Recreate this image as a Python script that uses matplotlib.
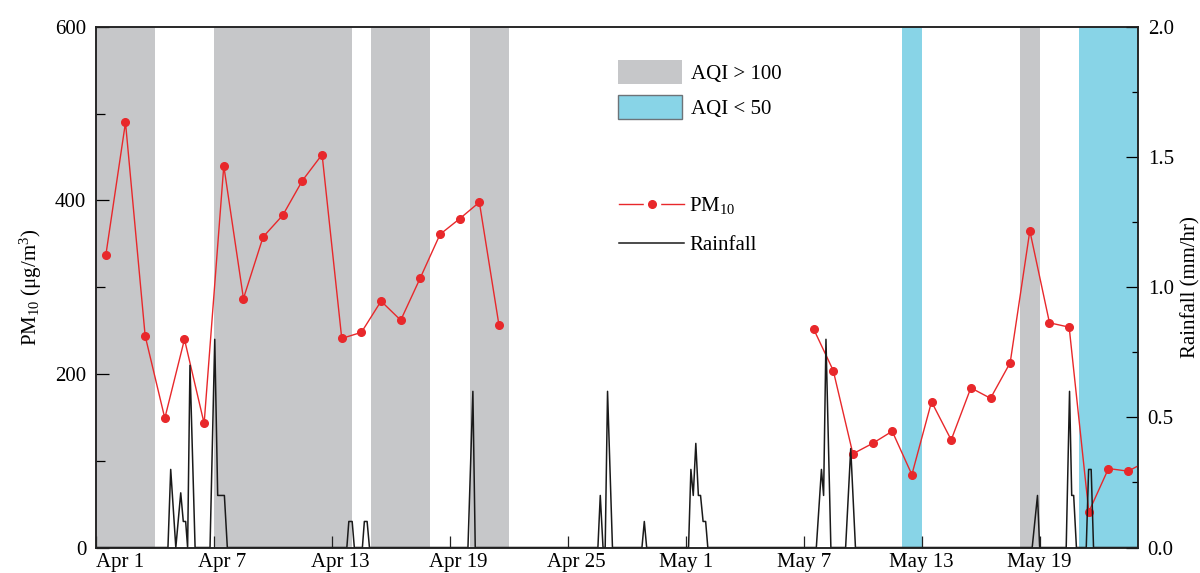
import matplotlib
matplotlib.use("Agg")
import matplotlib.pyplot as plt
import matplotlib.transforms as mtransforms
from matplotlib.lines import Line2D
from matplotlib.patches import Patch
from matplotlib.legend_handler import HandlerTuple
from matplotlib.ticker import MultipleLocator
import numpy as np

plt.rcParams["font.family"] = ["Liberation Serif", "DejaVu Serif"]
plt.rcParams["mathtext.fontset"] = "custom"
plt.rcParams["mathtext.rm"] = "Liberation Serif"
plt.rcParams["mathtext.it"] = "Liberation Serif:italic"
plt.rcParams["font.size"] = 15

# ---------------------------------------------------------------------------
# Data  (x = days since Apr 1 00:00)
# ---------------------------------------------------------------------------
tick_days = [0, 6, 12, 18, 24, 30, 36, 42, 48]
tick_labels = ["Apr 1", "Apr 7", "Apr 13", "Apr 19", "Apr 25",
               "May 1", "May 7", "May 13", "May 19"]

nan = np.nan
# daily mean PM10 (ug/m3), Apr 1 .. May 24; nan = no measurement
pm10 = [337, 490, 244, 149, 240, 143, 440, 287, 358, 383, 423, 453,
        241, 248, 284, 262, 311, 361, 379, 398, 256,
        nan, nan, nan, nan, nan, nan, nan, nan, nan, nan, nan, nan, nan, nan, nan,
        252, 204, 108, 120, 134, 84, 168, 124, 184, 172, 213, 365,
        259, 254, 41, 91, 88, 100]

# rainfall (mm/hr) vertices
rain_t = [0.00,
          3.66, 3.80, 4.06, 4.31, 4.44, 4.56, 4.66, 4.78, 5.04,
          5.80, 6.04, 6.19, 6.53, 6.68,
          12.76, 12.86, 13.03, 13.14,
          13.55, 13.65, 13.79, 13.91,
          18.92, 19.17, 19.29,
          25.53, 25.65, 25.79, 25.90, 26.02, 26.27,
          27.77, 27.89, 28.01,
          30.14, 30.26, 30.38, 30.51, 30.64, 30.75, 30.88, 31.01, 31.12,
          36.64, 36.90, 37.01, 37.13, 37.38,
          38.13, 38.39, 38.63,
          47.62, 47.89, 48.00,
          49.35, 49.52, 49.63, 49.73, 49.87,
          50.37, 50.49, 50.62, 50.74,
          53.00]
rain_v = [0.0,
          0.0, 0.30, 0.0, 0.21, 0.10, 0.10, 0.0, 0.70, 0.0,
          0.0, 0.80, 0.20, 0.20, 0.0,
          0.0, 0.10, 0.10, 0.0,
          0.0, 0.10, 0.10, 0.0,
          0.0, 0.60, 0.0,
          0.0, 0.20, 0.0, 0.0, 0.60, 0.0,
          0.0, 0.10, 0.0,
          0.0, 0.30, 0.20, 0.40, 0.20, 0.20, 0.10, 0.10, 0.0,
          0.0, 0.30, 0.20, 0.80, 0.0,
          0.0, 0.38, 0.0,
          0.0, 0.20, 0.0,
          0.0, 0.60, 0.20, 0.20, 0.0,
          0.0, 0.30, 0.30, 0.0,
          0.0]

# AQI episodes (start day, end day)
aqi_high = [(0, 3), (6, 13), (14, 17), (19, 21), (47, 48)]
aqi_low = [(41, 42), (50, 53)]

# ---------------------------------------------------------------------------
# Plot
# ---------------------------------------------------------------------------
RED = "#e8282b"
GRAY = "#c6c7c9"
BLUE = "#88d4e7"

fig = plt.figure(figsize=(12, 5.73), dpi=100)
ax = fig.add_axes([0.08, 0.0445, 0.8683, 0.9084])
ax2 = ax.twinx()

for a, b in aqi_high:
    ax.axvspan(a, b, color=GRAY, lw=0, zorder=0)
for a, b in aqi_low:
    ax.axvspan(a, b, color=BLUE, lw=0, zorder=0)

x_pm = np.arange(len(pm10)) + 0.5
ax.plot(x_pm, pm10, color=RED, lw=1.0, marker="o", ms=5.5, zorder=3)
ax2.plot(rain_t, rain_v, color="#1a1a1a", lw=1.1)

ax.set_xlim(0, 53)
ax.set_ylim(0, 600)
ax2.set_ylim(0, 2.0)

ax.set_xticks(tick_days)
ax.set_xticklabels(tick_labels)
ax.yaxis.set_major_locator(MultipleLocator(200))
ax.yaxis.set_minor_locator(MultipleLocator(100))
ax2.yaxis.set_major_locator(MultipleLocator(0.5))
ax2.yaxis.set_minor_locator(MultipleLocator(0.25))
ax2.yaxis.set_major_formatter(plt.FormatStrFormatter("%.1f"))

ax.tick_params(axis="x", direction="in", length=8.5, width=0.9, pad=4, color="#222222")
ax.tick_params(axis="y", which="major", direction="in", length=9.5, width=0.9, pad=7)
ax.tick_params(axis="y", which="minor", direction="in", length=6.5, width=0.9)
ax2.tick_params(axis="y", which="major", direction="in", length=8.5, width=0.9, pad=7)
ax2.tick_params(axis="y", which="minor", direction="in", length=4.5, width=0.9)

for a in (ax, ax2):
    for s in a.spines.values():
        s.set_linewidth(1.1)
        s.set_color("#222222")

# label placement tweaks (Apr labels sit a bit right of their ticks)
shift = mtransforms.ScaledTranslation(8 / 100, 0, fig.dpi_scale_trans)
for i, lab in enumerate(ax.get_xticklabels()):
    if i == 0:
        lab.set_horizontalalignment("left")
    elif i < 5:
        lab.set_transform(lab.get_transform() + shift)

ax.set_ylabel("PM$_{10}$ (μg/m$^{3}$)", labelpad=8)
ax2.set_ylabel("Rainfall (mm/hr)", labelpad=5)

# legends
h_high = Patch(facecolor=GRAY, edgecolor="none")
h_low = Patch(facecolor=BLUE, edgecolor="#6d7378", lw=1.0)
leg1 = ax2.legend([h_high, h_low], ["AQI > 100", "AQI < 50"],
                  loc="upper left", bbox_to_anchor=(0.501, 0.937),
                  frameon=False, borderpad=0, handlelength=3.08,
                  handleheight=1.38, labelspacing=0.55, handletextpad=0.42,
                  borderaxespad=0)
ax2.add_artist(leg1)

h_pm = (Line2D([], [], color=RED, lw=1.0),
        Line2D([], [], ls="none", marker="s", ms=12, mfc="white", mec="white"),
        Line2D([], [], ls="none", marker="o", ms=5.5, color=RED))
h_rain = Line2D([], [], color="#1a1a1a", lw=1.1)
ax2.legend([h_pm, h_rain], ["PM$_{10}$", "Rainfall"],
           handler_map={tuple: HandlerTuple(ndivide=1, pad=0)},
           loc="upper left", bbox_to_anchor=(0.502, 0.677),
           frameon=False, borderpad=0, handlelength=3.12,
           labelspacing=0.95, handletextpad=0.25, borderaxespad=0)

fig.savefig("out.png", dpi=100)
